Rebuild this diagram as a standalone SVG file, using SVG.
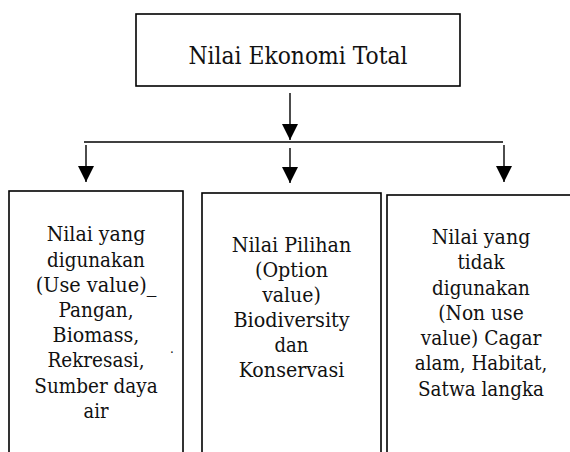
<svg xmlns="http://www.w3.org/2000/svg" width="570" height="452" viewBox="0 0 570 452">
<style>
.box{fill:#fff;stroke:#000;stroke-width:1.6}
.ln{stroke:#000;stroke-width:1.4;fill:none}
text{font-family:"DejaVu Serif","Liberation Serif",serif;fill:#111;text-anchor:middle}
.t{font-size:20.5px}
.tt{font-size:23.5px}
</style>
<defs>
<marker id="ah" markerUnits="userSpaceOnUse" markerWidth="16" markerHeight="16" refX="16" refY="8" orient="auto" viewBox="0 0 16 16">
<path d="M0,0 L16,8 L0,16 Z" fill="#000"/>
</marker>
</defs>
<rect width="570" height="452" fill="#fff"/>
<g id="total">
<rect class="box" x="136" y="14" width="324" height="72"/>
<text class="tt" x="298" y="64" textLength="219" lengthAdjust="spacingAndGlyphs">Nilai Ekonomi Total</text>
</g>
<g id="connectors">
<line class="ln" x1="290" y1="93" x2="290" y2="140" marker-end="url(#ah)"/>
<line class="ln" x1="84" y1="142" x2="503" y2="142"/>
<line class="ln" x1="86" y1="145" x2="86" y2="182" marker-end="url(#ah)"/>
<line class="ln" x1="290" y1="148" x2="290" y2="183" marker-end="url(#ah)"/>
<line class="ln" x1="504" y1="145" x2="504" y2="182" marker-end="url(#ah)"/>
</g>
<g id="use-value">
<rect class="box" x="9" y="191" width="174" height="280"/>
<text class="t" x="96" y="241" textLength="98.6" lengthAdjust="spacingAndGlyphs">Nilai yang</text>
<text class="t" x="96" y="266.5" textLength="97.9" lengthAdjust="spacingAndGlyphs">digunakan</text>
<text class="t" x="96" y="292" textLength="120.7" lengthAdjust="spacingAndGlyphs">(Use value)_</text>
<text class="t" x="96" y="317" textLength="75.1" lengthAdjust="spacingAndGlyphs">Pangan,</text>
<text class="t" x="96" y="342" textLength="86.8" lengthAdjust="spacingAndGlyphs">Biomass,</text>
<text class="t" x="96" y="367" textLength="97.2" lengthAdjust="spacingAndGlyphs">Rekresasi,</text>
<text class="t" x="96" y="393" textLength="123.4" lengthAdjust="spacingAndGlyphs">Sumber daya</text>
<text class="t" x="96" y="418" textLength="24.8" lengthAdjust="spacingAndGlyphs">air</text>
<text x="172" y="353" style="font-size:12px">.</text>
</g>
<g id="option-value">
<rect class="box" x="202" y="193" width="179" height="280"/>
<text class="t" x="291.5" y="251.5" textLength="119.5" lengthAdjust="spacingAndGlyphs">Nilai Pilihan</text>
<text class="t" x="291.5" y="276.5" textLength="73.1" lengthAdjust="spacingAndGlyphs">(Option</text>
<text class="t" x="291.5" y="301.5" textLength="58.7" lengthAdjust="spacingAndGlyphs">value)</text>
<text class="t" x="291.5" y="326.5" textLength="116.2" lengthAdjust="spacingAndGlyphs">Biodiversity</text>
<text class="t" x="291.5" y="351.5" textLength="33.9" lengthAdjust="spacingAndGlyphs">dan</text>
<text class="t" x="291.5" y="377" textLength="105.7" lengthAdjust="spacingAndGlyphs">Konservasi</text>
</g>
<g id="non-use-value">
<rect class="box" x="387" y="195" width="190" height="280"/>
<text class="t" x="481" y="244" textLength="98.6" lengthAdjust="spacingAndGlyphs">Nilai yang</text>
<text class="t" x="481" y="269" textLength="47" lengthAdjust="spacingAndGlyphs">tidak</text>
<text class="t" x="481" y="295" textLength="97.9" lengthAdjust="spacingAndGlyphs">digunakan</text>
<text class="t" x="481" y="320" textLength="85.5" lengthAdjust="spacingAndGlyphs">(Non use</text>
<text class="t" x="481" y="345" textLength="120.7" lengthAdjust="spacingAndGlyphs">value) Cagar</text>
<text class="t" x="481" y="370" textLength="132.5" lengthAdjust="spacingAndGlyphs">alam, Habitat,</text>
<text class="t" x="481" y="396" textLength="126" lengthAdjust="spacingAndGlyphs">Satwa langka</text>
</g>
</svg>
